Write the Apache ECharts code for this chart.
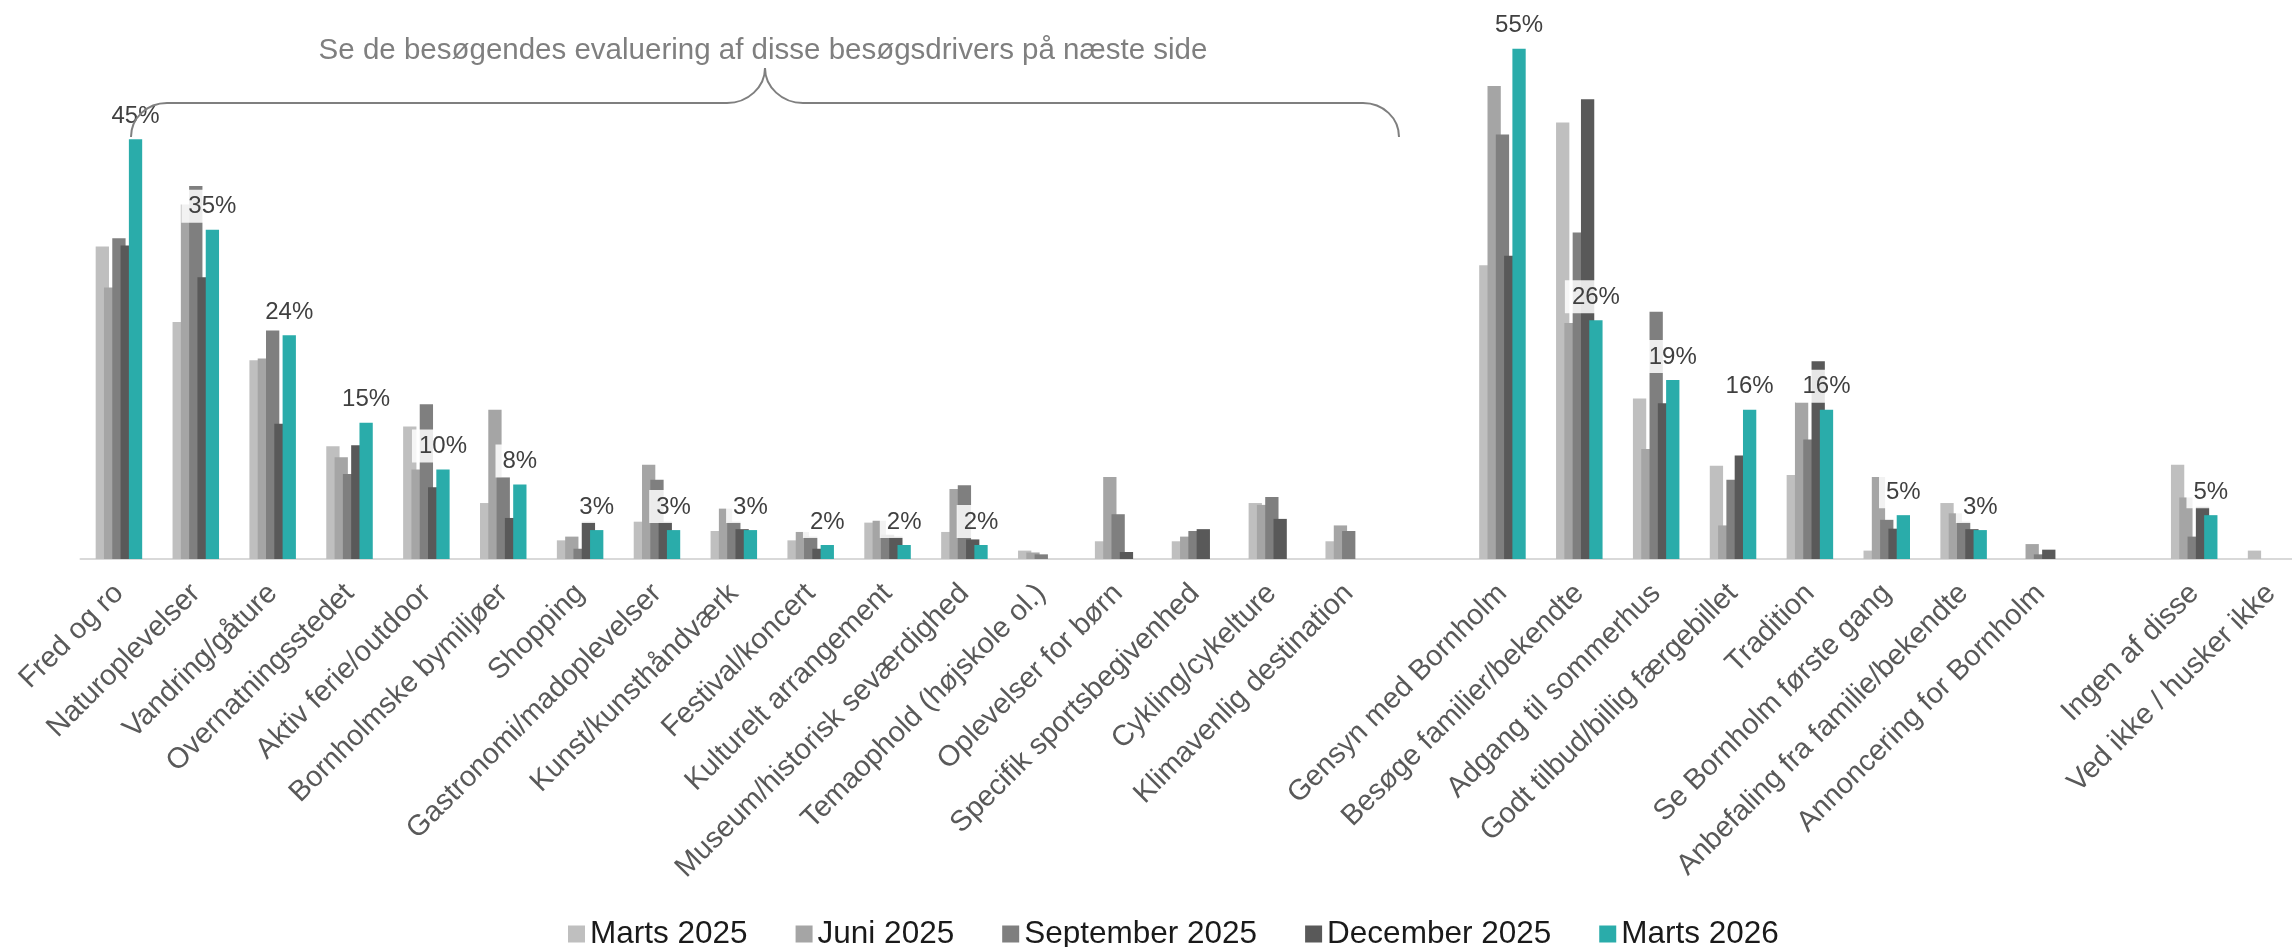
<!DOCTYPE html>
<html>
<head>
<meta charset="utf-8">
<script src="https://cdn.jsdelivr.net/npm/echarts@6/dist/echarts.min.js"></script>
<style>
html,body{margin:0;padding:0;background:#fff;overflow:hidden;width:2292px;height:947px;}
#chart{width:2310px;height:947px;}
</style>
</head>
<body>
<div id="chart"></div>
<script>
const categories = ['Fred og ro','Naturoplevelser','Vandring/gåture','Overnatningsstedet','Aktiv ferie/outdoor','Bornholmske bymiljøer','Shopping','Gastronomi/madoplevelser','Kunst/kunsthåndværk','Festival/koncert','Kulturelt arrangement','Museum/historisk seværdighed','Temaophold (højskole ol.)','Oplevelser for børn','Specifik sportsbegivenhed','Cykling/cykelture','Klimavenlig destination','','Gensyn med Bornholm','Besøge familier/bekendte','Adgang til sommerhus','Godt tilbud/billig færgebillet','Tradition','Se Bornholm første gang','Anbefaling fra familie/bekendte','Annoncering for Bornholm','','Ingen af disse','Ved ikke / husker ikke'];

const seriesNames = ['Marts 2025','Juni 2025','September 2025','December 2025','Marts 2026'];

const marts2025 = [33.5,25.4,21.3,12.1,14.2,6.0,2.0,4.0,3.0,2.0,3.9,2.9,0.9,1.9,1.9,6.0,1.9,null,31.5,46.8,17.2,10.0,9.0,0.9,6.0,0,null,10.1,0.9];
const juni2025 = [29.1,38.0,21.5,10.9,9.6,16.0,2.4,10.1,5.4,2.9,4.1,7.5,0.7,8.8,2.4,5.8,3.6,null,50.7,25.3,11.8,3.6,16.8,8.8,4.9,1.6,null,6.6,0];
const september2025 = [34.4,40.0,24.5,9.1,16.6,8.8,1.1,8.5,4.0,2.4,2.6,7.9,0.5,4.8,3.0,6.65,3.0,null,45.5,35.0,26.5,8.5,12.8,4.2,4.0,0.5,null,2.4,0];
const december2025 = [33.6,30.2,14.5,12.2,7.7,4.4,4.0,4.0,3.2,1.1,2.4,2.1,0,0.75,3.2,4.3,0,null,32.5,49.3,16.7,11.1,21.2,3.25,3.2,1.0,null,5.6,0];
const marts2026 = [45.0,35.3,24.0,14.6,9.6,8.0,3.1,3.1,3.1,1.5,1.5,1.5,null,null,null,null,null,null,54.7,25.6,19.2,16.0,16.0,4.7,3.1,null,null,4.7,null];

const noteText = 'Se de besøgendes evaluering af disse besøgsdrivers på næste side';

const colors = ['#bfbfbf','#a5a5a5','#7f7f7f','#595959','#2aacaa'];
const allData = [marts2025, juni2025, september2025, december2025, marts2026];
const FONT = "'Liberation Sans', Arial, sans-serif";

const chart = echarts.init(document.getElementById('chart'), null, {renderer:'canvas'});

const series = allData.map((d, i) => {
  const s = {
    name: seriesNames[i],
    type: 'bar',
    data: d,
    barWidth: 13.3,
    barGap: '-37.6%',
    itemStyle: {color: colors[i]},
    animation: false
  };
  if (i === 4) {
    s.label = {
      show: true,
      position: 'top',
      distance: 7,
      formatter: p => (p.value == null ? '' : Math.round(p.value) + '%'),
      fontFamily: FONT,
      fontSize: 24,
      color: '#404040',
      backgroundColor: 'rgba(255,255,255,0.85)',
      padding: [5, 7, 4, 7]
    };
  }
  return s;
});

const braceStyle = {stroke: '#7f7f7f', fill: null, lineWidth: 2};

chart.setOption({
  backgroundColor: '#ffffff',
  animation: false,
  grid: {left: 80.5, right: 0.5, top: 46, bottom: 388, containLabel: false},
  legend: {
    data: seriesNames,
    left: 563,
    top: 913,
    itemWidth: 17,
    itemHeight: 17,
    itemGap: 48,
    icon: 'rect',
    textStyle: {fontFamily: FONT, fontSize: 31.5, color: '#1a1a1a'}
  },
  xAxis: {
    type: 'category',
    data: categories,
    axisLine: {lineStyle: {color: '#d9d9d9', width: 2}},
    axisTick: {show: false},
    axisLabel: {
      interval: 0,
      rotate: 45,
      margin: 30,
      fontFamily: FONT,
      fontSize: 29,
      color: '#595959'
    }
  },
  yAxis: {
    type: 'value',
    min: 0,
    max: 55,
    show: false,
    splitLine: {show: false}
  },
  series: series,
  graphic: [
    {type: 'bezierCurve', z: 100, silent: true, shape: {x1: 131, y1: 137, cpx1: 131, cpy1: 118, cpx2: 147, cpy2: 103, x2: 167, y2: 103}, style: braceStyle},
    {type: 'line', z: 100, silent: true, shape: {x1: 167, y1: 103, x2: 727, y2: 103}, style: braceStyle},
    {type: 'bezierCurve', z: 100, silent: true, shape: {x1: 727, y1: 103, cpx1: 748, cpy1: 103, cpx2: 765, cpy2: 87, x2: 765, y2: 68}, style: braceStyle},
    {type: 'bezierCurve', z: 100, silent: true, shape: {x1: 765, y1: 68, cpx1: 765, cpy1: 87, cpx2: 782, cpy2: 103, x2: 803, y2: 103}, style: braceStyle},
    {type: 'line', z: 100, silent: true, shape: {x1: 803, y1: 103, x2: 1363, y2: 103}, style: braceStyle},
    {type: 'bezierCurve', z: 100, silent: true, shape: {x1: 1363, y1: 103, cpx1: 1383, cpy1: 103, cpx2: 1399, cpy2: 118, x2: 1399, y2: 137}, style: braceStyle},
    {
      type: 'text',
      z: 100,
      silent: true,
      x: 763,
      y: 51,
      style: {
        text: noteText,
        fontFamily: FONT,
        fontSize: 29.5,
        fill: '#7f7f7f',
        textAlign: 'center',
        textVerticalAlign: 'middle'
      }
    }
  ]
});
</script>
</body>
</html>
